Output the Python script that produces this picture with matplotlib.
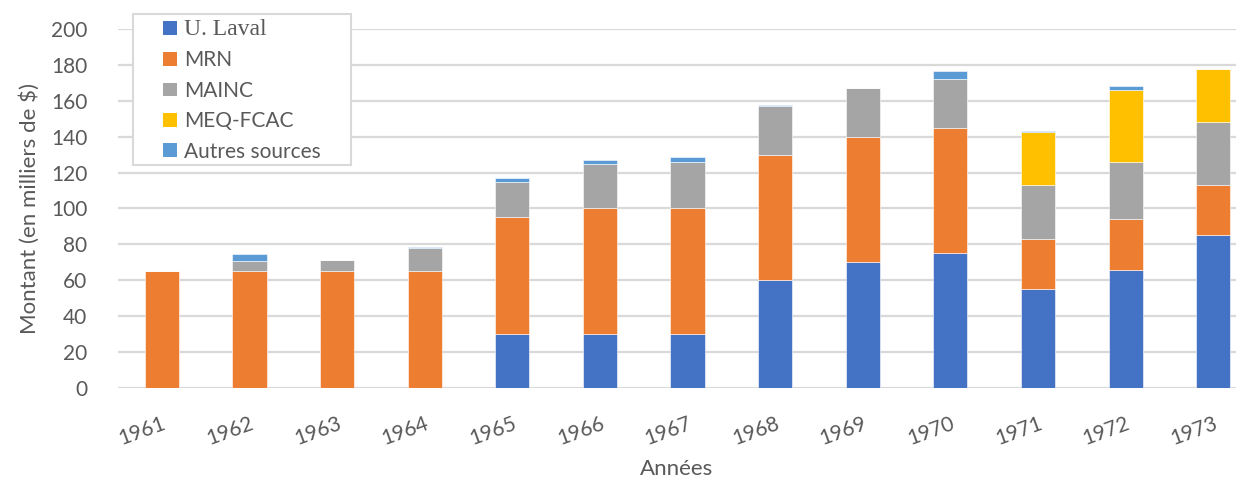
import numpy as np
import matplotlib.pyplot as plt
from matplotlib.patches import Patch, Rectangle

# Funding per year, thousands of dollars
annees = ["1961", "1962", "1963", "1964", "1965", "1966", "1967",
          "1968", "1969", "1970", "1971", "1972", "1973"]
u_laval = [0, 0, 0, 0, 30, 30, 30, 60, 70, 75, 55, 66, 85]
mrn = [65, 65, 65, 65, 65, 70, 70, 70, 70, 70, 28, 28, 28]
mainc = [0, 5.5, 6.5, 13, 20, 25, 26, 27, 27, 27, 30, 32, 35]
meq_fcac = [0, 0, 0, 0, 0, 0, 0, 0, 0, 0, 29.5, 40, 29.5]
autres = [0, 4, 0, 0.7, 2, 2, 2.5, 0.4, 0, 4.5, 0.6, 2, 0]

series = [
    ("U. Laval", u_laval, "#4472C4"),
    ("MRN", mrn, "#ED7D31"),
    ("MAINC", mainc, "#A5A5A5"),
    ("MEQ-FCAC", meq_fcac, "#FFC000"),
    ("Autres sources", autres, "#5B9BD5"),
]

TXT = "#595959"
GRID = "#d9d9d9"
plt.rcParams["font.family"] = ["Lato", "DejaVu Sans"]

W, H = 1236, 480
fig = plt.figure(figsize=(W / 100, H / 100), dpi=100)
ax = fig.add_axes([0.0955, 0.1917, 0.9045, 0.748])

x = np.arange(len(annees))
bottom = np.zeros(len(annees))
for name, vals, col in series:
    vals = np.array(vals, dtype=float)
    ax.bar(x, vals, width=0.39, bottom=bottom, color=col,
           edgecolor="white", linewidth=0.4, zorder=3)
    bottom += vals

ax.set_ylim(0, 200)
ax.set_xlim(-0.5, 12.26)
ax.set_yticks(np.arange(0, 201, 20))
ax.yaxis.grid(True, color=GRID, linewidth=1.6, zorder=0)
ax.set_axisbelow(True)
for s in ax.spines.values():
    s.set_visible(False)
ax.tick_params(axis="both", length=0, labelsize=15, labelcolor=TXT)
ax.tick_params(axis="y", pad=22)
ax.set_xticks(x)
ax.set_xticklabels(annees, rotation=20, ha="right", rotation_mode="anchor")
ax.tick_params(axis="x", pad=18)

ax.set_ylabel("Montant (en milliers de $)", fontsize=16, color=TXT, labelpad=8)
ax.set_xlabel("Années", fontsize=16, color=TXT, labelpad=8)

# legend box drawn separately so the entries can sit well inside it
box = Rectangle((133 / W, 1 - 165 / H), (351 - 133) / W, (165 - 14) / H,
                transform=fig.transFigure, facecolor="white",
                edgecolor=GRID, linewidth=1.5, zorder=5)
fig.add_artist(box)

handles = [Patch(facecolor=col, edgecolor="none") for _, _, col in series]
leg = fig.legend(handles, [s[0] for s in series],
                 loc="upper left", bbox_to_anchor=(163 / W, 1 - 19 / H),
                 fontsize=15, frameon=False,
                 handlelength=0.65, handleheight=0.65, handletextpad=0.35,
                 labelspacing=0.5, borderpad=0, borderaxespad=0)
leg.set_zorder(6)
for i, t in enumerate(leg.get_texts()):
    t.set_color(TXT)
    if i == 0:
        t.set_family("Liberation Serif")
        t.set_fontsize(17)

fig.savefig("out.png", dpi=100)
